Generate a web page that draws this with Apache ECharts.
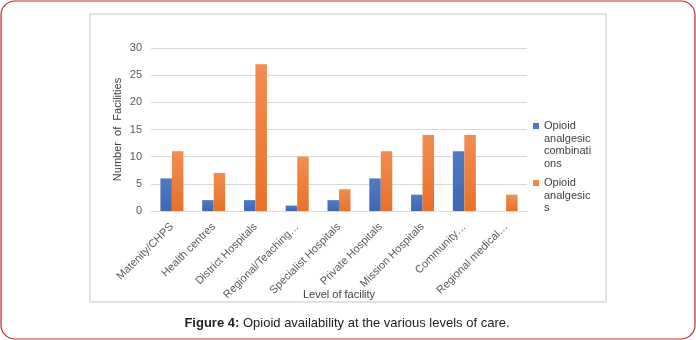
<!DOCTYPE html>
<html><head><meta charset="utf-8">
<script src="https://cdn.jsdelivr.net/npm/echarts@6/dist/echarts.min.js"></script>
<style>html,body{margin:0;padding:0;background:#fff}#c{width:696px;height:340px}</style>
</head><body><div id="c"></div>
<script>
const categories = ["Matenity/CHPS","Health centres","District Hospitals","Regional/Teaching…","Specialist Hospitals","Private Hospitals","Mission Hospitals","Community…","Regional medical…"];
const combinations = [6,2,2,1,2,6,3,11,null];
const analgesics = [11,7,27,10,4,11,14,14,3];
const seriesNames = ["Opioid analgesic combinations","Opioid analgesics"];
const legendLines = {"Opioid analgesic combinations":"Opioid\nanalgesic\ncombinati\nons","Opioid analgesics":"Opioid\nanalgesic\ns"};
const yTicks = {min:0,max:30,interval:5};

const chart = echarts.init(document.getElementById('c'));
const FONT = 'Liberation Sans, Arial, sans-serif';
const blue = new echarts.graphic.LinearGradient(0,0,0,1,[{offset:0,color:'#4f7bc6'},{offset:1,color:'#3f67b0'}]);
const orange = new echarts.graphic.LinearGradient(0,0,0,1,[{offset:0,color:'#f28d51'},{offset:1,color:'#e8712a'}]);
const LH = 12.5;
function legendComp(name, firstLineY){
  const n = legendLines[name].split('\n').length;
  const H = n*LH;
  const c = LH/2;
  const icon = 'path://M0,'+(c-3)+'L6,'+(c-3)+'L6,'+(c+3)+'L0,'+(c+3)+'Z M0,0L0,0Z M0,'+H+'L0,'+H+'Z';
  return {
    data:[{name:name,icon:icon}], orient:'vertical', left:533, top: firstLineY - LH/2, padding:0,
    itemWidth:6, itemHeight:H, itemGap:0,
    formatter: nm => legendLines[nm],
    textStyle:{fontFamily:FONT,fontSize:11,color:'#404040',lineHeight:LH}
  };
}
chart.setOption({
  animation:false,
  textStyle:{fontFamily:FONT},
  grid:{left:151,right:169,top:48,bottom:129},
  legend:[legendComp(seriesNames[0],126), legendComp(seriesNames[1],183)],
  xAxis:{
    type:'category', data:categories,
    name:'Level of facility', nameLocation:'middle', nameGap:78, nameMoveOverlap:false,
    nameTextStyle:{fontSize:11,color:'#404040',fontFamily:FONT},
    axisLine:{lineStyle:{color:'#d9d9d9',width:1}}, axisTick:{show:false},
    axisLabel:{rotate:45,fontSize:11,color:'#595959',margin:14,interval:0,fontFamily:FONT}
  },
  yAxis:{
    type:'value', min:yTicks.min, max:yTicks.max, interval:yTicks.interval,
    name:'Number  of  Facilities', nameLocation:'middle', nameGap:28, nameRotate:90, nameMoveOverlap:false,
    nameTextStyle:{fontSize:11,color:'#404040',fontFamily:FONT},
    axisLine:{show:false}, axisTick:{show:false},
    splitLine:{lineStyle:{color:'#d9d9d9',width:1}},
    axisLabel:{fontSize:11,color:'#595959',margin:9,fontFamily:FONT}
  },
  series:[
    {name:seriesNames[0],type:'bar',data:combinations,itemStyle:{color:blue},barGap:'0%',barCategoryGap:'45%'},
    {name:seriesNames[1],type:'bar',data:analgesics,itemStyle:{color:orange},barGap:'0%',barCategoryGap:'45%'}
  ],
  graphic:[
    {type:'rect',shape:{x:1,y:1,width:694,height:338,r:14},style:{fill:'none',stroke:'#c4262c',lineWidth:1.2},silent:true,z:-1},
    {type:'rect',shape:{x:90,y:14,width:516,height:288},style:{fill:'none',stroke:'#d9d9d9',lineWidth:1.5},silent:true,z:-1},
    {type:'text',x:347,y:323,style:{text:'{b|Figure 4:} Opioid availability at the various levels of care.',
      align:'center',verticalAlign:'middle',fill:'#222',font:'13px '+FONT,
      rich:{b:{fontWeight:'bold',fontSize:13,fontFamily:FONT,fill:'#222'}}}}
  ]
});
</script></body></html>
